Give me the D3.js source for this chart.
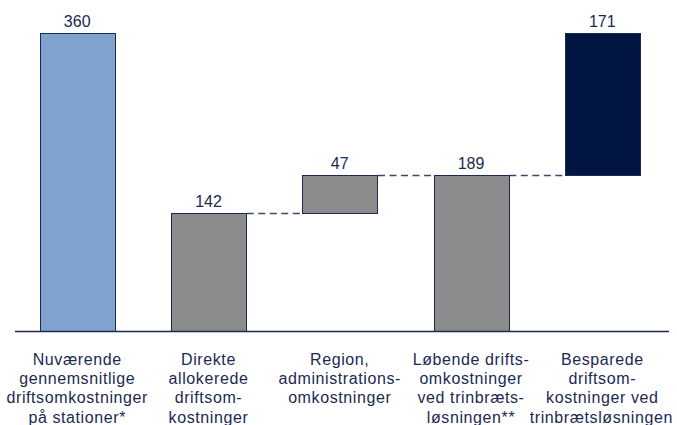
<!DOCTYPE html>
<html>
<head>
<meta charset="utf-8">
<script src="https://cdn.jsdelivr.net/npm/d3@7"></script>
<style>
  html, body { margin: 0; padding: 0; background: #fff; }
  svg { display: block; }
  text { font-family: Arial, "Liberation Sans", sans-serif; fill: #1b2a52; }
</style>
</head>
<body>
<svg id="chart" width="677" height="425"></svg>
<script>
// Waterfall: current station operating cost broken down into costs kept and costs saved
const categories = [
  ["Nuværende", "gennemsnitlige", "driftsomkostninger", "på stationer*"],
  ["Direkte", "allokerede", "driftsom-", "kostninger"],
  ["Region,", "administrations-", "omkostninger"],
  ["Løbende drifts-", "omkostninger", "ved trinbræts-", "løsningen**"],
  ["Besparede", "driftsom-", "kostninger ved", "trinbrætsløsningen"]
];
const values = [360, 142, 47, 189, 171];
// "total" bars stand on the axis, "add" bars float on top of the previous bar
const barTypes = ["total", "total", "add", "total", "add"];
const barColors = ["#7fa3cc", "#8c8c8c", "#8c8c8c", "#8c8c8c", "#001641"];

const W = 677, H = 425;
const svg = d3.select("#chart");

const x = d3.scaleBand()
  .domain(d3.range(values.length))
  .range([15, 664.5])
  .paddingInner(0.432)
  .paddingOuter(0.19);

const y = d3.scaleLinear().domain([0, 360]).range([331, 33]);

// running bottoms / tops
const bars = [];
let prevTop = 0;
values.forEach((v, i) => {
  const lo = barTypes[i] === "add" ? prevTop : 0;
  const hi = lo + v;
  bars.push({ i, v, lo, hi });
  prevTop = hi;
});

// connectors between neighbouring bars when a floating bar is involved
const connectors = [];
for (let i = 0; i < bars.length - 1; i++) {
  if (barTypes[i] === "add" || barTypes[i + 1] === "add") {
    connectors.push({ x1: x(i) + x.bandwidth(), x2: x(i + 1), level: bars[i].hi });
  }
}
svg.selectAll("line.conn").data(connectors).join("line")
  .attr("class", "conn")
  .attr("x1", d => d.x1 + 1).attr("x2", d => d.x2)
  .attr("y1", d => Math.round(y(d.level)) + 0.5).attr("y2", d => Math.round(y(d.level)) + 0.5)
  .attr("stroke", "#3e4a68").attr("stroke-width", 1.3)
  .attr("stroke-dasharray", "7,4.5");

svg.selectAll("rect.bar").data(bars).join("rect")
  .attr("class", "bar")
  .attr("x", d => Math.round(x(d.i)) + 0.5)
  .attr("y", d => Math.round(y(d.hi)) + 0.5)
  .attr("width", Math.round(x.bandwidth()))
  .attr("height", d => Math.round(y(d.lo)) - Math.round(y(d.hi)))
  .attr("fill", d => barColors[d.i])
  .attr("stroke", "#1b2a52")
  .attr("stroke-width", 1);

// baseline
svg.append("line")
  .attr("x1", 15).attr("x2", 669)
  .attr("y1", y(0) + 0.5).attr("y2", y(0) + 0.5)
  .attr("stroke", "#1b2a52").attr("stroke-width", 1.3);

// value labels
svg.selectAll("text.val").data(bars).join("text")
  .attr("class", "val")
  .attr("x", d => x(d.i) + x.bandwidth() / 2)
  .attr("y", d => y(d.hi) - 6)
  .attr("text-anchor", "middle")
  .attr("font-size", 16)
  .text(d => d.v);

// category labels, kept inside the drawing area
const lineH = 19.2;
categories.forEach((lines, i) => {
  const cx = x(i) + x.bandwidth() / 2;
  lines.forEach((ln, j) => {
    const t = svg.append("text")
      .attr("x", cx)
      .attr("y", 365 + j * lineH)
      .attr("text-anchor", "middle")
      .attr("font-size", 16)
      .attr("letter-spacing", 0.6)
      .text(ln);
    const bb = t.node().getBBox();
    if (bb.x + bb.width > W - 4) t.attr("x", cx - (bb.x + bb.width - (W - 4)));
    if (bb.x < 3) t.attr("x", cx + (3 - bb.x));
  });
});
</script>
</body>
</html>
